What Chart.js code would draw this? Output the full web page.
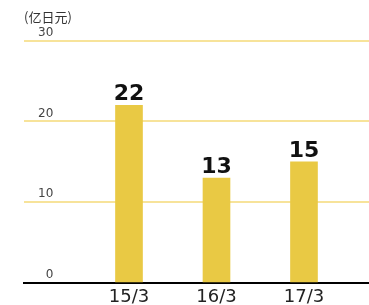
<!DOCTYPE html>
<html><head><meta charset="utf-8">
<script src="https://cdn.jsdelivr.net/npm/chart.js@4/dist/chart.umd.min.js"></script>
<style>html,body{margin:0;padding:0;background:#fff}#wrap{width:369px;height:305px}</style>
</head><body><div id="wrap"><canvas id="c" width="369" height="305"></canvas></div>
<script>
const categories = ['15/3', '16/3', '17/3'];
const values = [22, 13, 15];
const yTicks = [0, 10, 20, 30];
const unitLabel = '(亿日元)';

const CJK = "'Noto Sans CJK SC', sans-serif";
const LATIN = "'DejaVu Sans', sans-serif";

const valueLabels = {
  id: 'valueLabels',
  afterDatasetsDraw(chart) {
    const ctx = chart.ctx;
    const meta = chart.getDatasetMeta(0);
    ctx.save();
    ctx.font = "bold 22px " + LATIN;
    ctx.fillStyle = '#111';
    ctx.textAlign = 'center';
    ctx.textBaseline = 'alphabetic';
    meta.data.forEach((bar, i) => {
      ctx.fillText(String(values[i]), bar.x, bar.y - 5);
    });
    ctx.restore();
  }
};

new Chart(document.getElementById('c'), {
  type: 'bar',
  data: {
    datasets: [{
      data: values.map((v, i) => ({ x: i + 1, y: v })),
      backgroundColor: '#E9C944',
      barThickness: 27
    }]
  },
  options: {
    responsive: false,
    animation: false,
    events: [],
    layout: { padding: { left: 24, right: 0, top: 2, bottom: 0 } },
    plugins: {
      legend: { display: false },
      tooltip: { enabled: false },
      title: {
        display: true,
        text: unitLabel,
        align: 'start',
        color: '#333',
        font: { family: CJK, size: 13, weight: 'normal' },
        padding: { top: 7, bottom: 16 }
      }
    },
    scales: {
      x: {
        type: 'linear',
        offset: false,
        min: -0.2,
        max: 3.743,
        afterBuildTicks(scale) { scale.ticks = categories.map((c, i) => ({ value: i + 1 })); },
        afterFit(scale) { scale.height = 22; },
        ticks: {
          callback: (v) => categories[v - 1] ?? '',
          color: '#222',
          font: { family: LATIN, size: 18 },
          padding: 4,
          maxRotation: 0,
          autoSkip: false
        },
        grid: { display: false, drawTicks: false, offset: false },
        border: { display: true, color: '#000', width: 2 }
      },
      y: {
        min: 0,
        max: 30,
        afterBuildTicks(scale) { scale.ticks = yTicks.map(v => ({ value: v })); },
        afterFit(scale) { scale.width = 0; },
        ticks: {
          mirror: true,
          crossAlign: 'far',
          padding: 14,
          labelOffset: -8,
          color: '#444',
          font: { family: LATIN, size: 12 }
        },
        grid: { color: '#F7E39A', lineWidth: 2, drawTicks: false },
        border: { display: false }
      }
    }
  },
  plugins: [valueLabels]
});
</script></body></html>
